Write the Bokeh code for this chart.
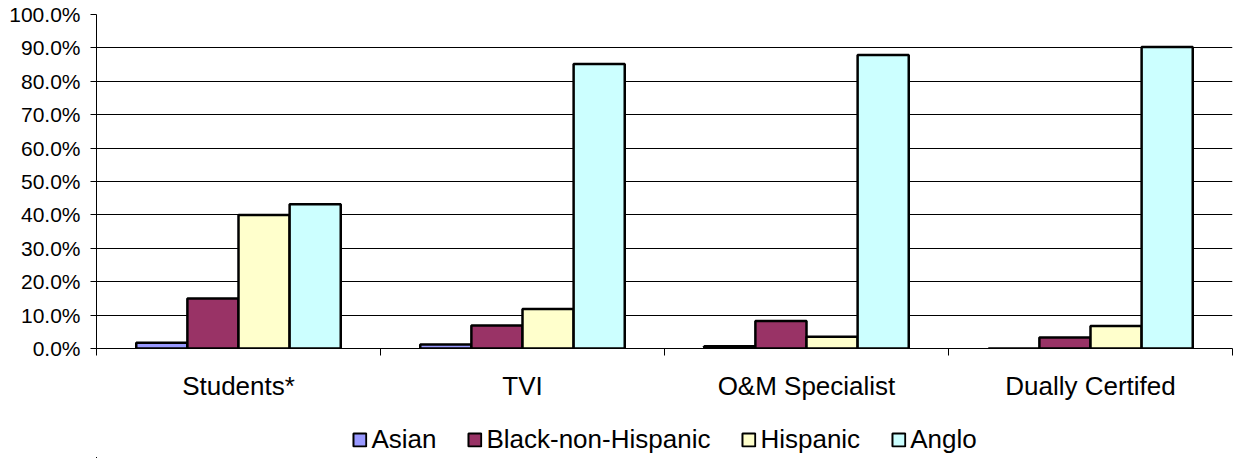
from bokeh.plotting import figure
from bokeh.layouts import column
from bokeh.models import (Range1d, FixedTicker, NumeralTickFormatter, ColumnDataSource,
                          Legend, LegendItem)
from bokeh.transform import dodge
from bokeh.embed import file_html
from bokeh.resources import INLINE

categories = ["Students*", "TVI", "O&M Specialist", "Dually Certifed"]
series = ["Asian", "Black-non-Hispanic", "Hispanic", "Anglo"]
asian = [0.017, 0.012, 0.007, 0.0]
black = [0.150, 0.069, 0.082, 0.033]
hispanic = [0.400, 0.118, 0.035, 0.067]
anglo = [0.432, 0.852, 0.879, 0.903]
colors = ["#9999FF", "#993366", "#FFFFCC", "#CCFFFF"]
y_ticks = [i / 10 for i in range(11)]

FONT = "Liberation Sans"

centers = [i + 0.5 for i in range(len(categories))]
src = ColumnDataSource(dict(x=centers, asian=asian, black=black,
                            hispanic=hispanic, anglo=anglo))

p = figure(width=1234, height=420, output_backend="svg", toolbar_location=None,
           x_range=Range1d(0, len(categories)), y_range=Range1d(0, 1),
           min_border_left=96, min_border_top=14, min_border_bottom=72,
           min_border_right=2)
p.outline_line_color = None
p.background_fill_color = "white"
p.border_fill_color = "white"

bw = 0.18
offsets = [-1.5 * bw, -0.5 * bw, 0.5 * bw, 1.5 * bw]
cols = ["asian", "black", "hispanic", "anglo"]
for off, col, c in zip(offsets, cols, colors):
    p.vbar(x=dodge("x", off), top=col, width=bw, bottom=0, source=src,
           fill_color=c, line_color="black", line_width=2.5)

# axes
p.xaxis.ticker = FixedTicker(ticks=centers, minor_ticks=list(range(len(categories) + 1)))
p.xaxis.major_label_overrides = {c: lab for c, lab in zip(centers, categories)}
p.xaxis.major_tick_out = 0
p.xaxis.major_tick_in = 0
p.xaxis.minor_tick_out = 7
p.xaxis.minor_tick_in = 0
p.xaxis.minor_tick_line_color = "black"
p.xaxis.axis_line_color = "black"
p.xaxis.major_label_text_font = FONT
p.xaxis.major_label_text_font_size = "26px"
p.xaxis.major_label_text_color = "black"
p.xaxis.major_label_standoff = 15

p.yaxis.ticker = FixedTicker(ticks=y_ticks, minor_ticks=[])
p.yaxis.formatter = NumeralTickFormatter(format="0.0%")
p.yaxis.major_tick_out = 6
p.yaxis.major_tick_in = 0
p.yaxis.major_tick_line_color = "black"
p.yaxis.axis_line_color = "black"
p.yaxis.major_label_text_font = FONT
p.yaxis.major_label_text_font_size = "21px"
p.yaxis.major_label_text_color = "black"
p.yaxis.major_label_standoff = 10

p.xgrid.grid_line_color = None
p.ygrid.ticker = FixedTicker(ticks=y_ticks)
p.ygrid.grid_line_color = "black"
p.ygrid.grid_line_width = 1

# legend strip (separate figure so the legend is never clipped); its bars use the
# same data but lie entirely outside this strip's visible ranges (zero width too),
# so only the legend swatches show
lg = figure(width=1234, height=38, output_backend="svg", toolbar_location=None,
            x_range=Range1d(10, 11), y_range=Range1d(2, 3),
            x_axis_type=None, y_axis_type=None,
            min_border_left=84, min_border_right=2, min_border_top=0, min_border_bottom=0)
lg.outline_line_color = None
lg.xgrid.visible = False
lg.ygrid.visible = False
legend_renderers = []
for off, col, c in zip(offsets, cols, colors):
    r = lg.vbar(x=dodge("x", off), top=col, width=0, bottom=0, source=src,
                fill_color=c, line_color="black", line_width=2)
    legend_renderers.append(r)

legend = Legend(items=[LegendItem(label=s, renderers=[r]) for s, r in zip(series, legend_renderers)],
                orientation="horizontal", location="center",
                glyph_width=16, glyph_height=16, label_standoff=4, spacing=30,
                padding=0, margin=0, border_line_color=None, background_fill_alpha=0,
                label_text_font=FONT, label_text_font_size="26px", label_text_color="black")
lg.add_layout(legend, "center")

layout = column(p, lg, spacing=0)
open("out.html", "w").write(file_html(layout, INLINE))
